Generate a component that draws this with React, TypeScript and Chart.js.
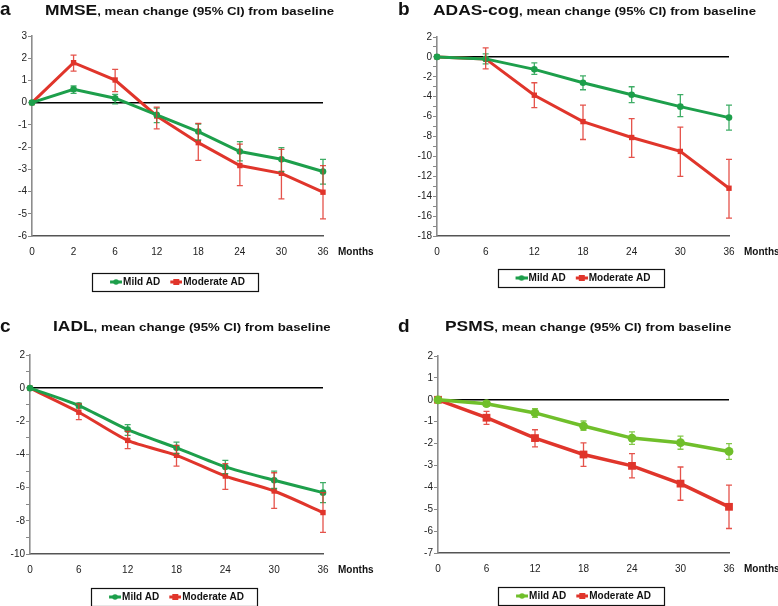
import React, { useEffect, useRef } from 'react';
import { Chart, registerables } from 'chart.js';

Chart.register(...registerables);

const FONT = "'Liberation Sans', Arial, Helvetica, sans-serif";

// ---------- data ----------
const MONTHS_A = ['0', '2', '6', '12', '18', '24', '30', '36'];
const MONTHS = ['0', '6', '12', '18', '24', '30', '36'];

// a: MMSE
const mmseMild = [0, 0.6, 0.2, -0.55, -1.3, -2.2, -2.55, -3.1];
const mmseMildLo = [0, 0.42, -0.05, -0.9, -1.68, -2.62, -3.1, -3.67];
const mmseMildHi = [0, 0.75, 0.37, -0.25, -0.96, -1.75, -2.02, -2.55];
const mmseMod = [0, 1.8, 1.02, -0.6, -1.8, -2.83, -3.18, -4.03];
const mmseModLo = [0, 1.42, 0.5, -1.18, -2.6, -3.73, -4.33, -5.23];
const mmseModHi = [0, 2.14, 1.5, -0.2, -0.93, -1.87, -2.1, -2.83];

// b: ADAS-cog
const adasMild = [0, -0.2, -1.25, -2.6, -3.8, -5.0, -6.1];
const adasMildLo = [0, -0.7, -1.75, -3.3, -4.6, -6.0, -7.35];
const adasMildHi = [0, 0.3, -0.6, -1.9, -3.0, -3.8, -4.85];
const adasMod = [0, -0.2, -3.85, -6.5, -8.1, -9.5, -13.2];
const adasModLo = [0, -1.2, -5.1, -8.3, -10.1, -12.0, -16.2];
const adasModHi = [0, 0.9, -2.6, -4.85, -6.2, -7.05, -10.3];

// c: IADL
const iadlMild = [0, -1.05, -2.5, -3.6, -4.75, -5.55, -6.3];
const iadlMildLo = [0, -1.2, -2.85, -3.95, -5.15, -6.05, -6.9];
const iadlMildHi = [0, -0.9, -2.2, -3.25, -4.35, -5.0, -5.7];
const iadlMod = [0, -1.45, -3.15, -4.05, -5.3, -6.2, -7.5];
const iadlModLo = [0, -1.9, -3.65, -4.7, -6.1, -7.25, -8.7];
const iadlModHi = [0, -0.95, -2.6, -3.45, -4.55, -5.1, -6.3];

// d: PSMS
const psmsMild = [0, -0.18, -0.6, -1.2, -1.75, -1.96, -2.36];
const psmsMildLo = [0, -0.3, -0.8, -1.4, -2.04, -2.26, -2.72];
const psmsMildHi = [0, -0.08, -0.4, -0.97, -1.47, -1.66, -2.0];
const psmsMod = [0, -0.82, -1.75, -2.5, -3.02, -3.83, -4.89];
const psmsModLo = [0, -1.12, -2.15, -3.04, -3.57, -4.59, -5.88];
const psmsModHi = [0, -0.53, -1.37, -1.97, -2.46, -3.07, -3.9];

const SERIES_NAMES = ['Mild AD', 'Moderate AD'];
const TITLE_REST = ', mean change (95% CI) from baseline';
const X_UNIT = 'Months';

const GREEN = '#1d9f4b';
const GREEN_LIGHT = '#70bf2b';
const RED = '#e0352b';

// ---------- plugins ----------
const errorBarPlugin = {
  id: 'errorBars',
  afterDatasetsDraw(chart: any) {
    const { ctx } = chart;
    const xs = chart.scales.x;
    const ys = chart.scales.y;
    chart.data.datasets.forEach((ds: any) => {
      const lo = ds.errLo;
      const hi = ds.errHi;
      if (!lo) return;
      ctx.save();
      ctx.strokeStyle = ds.borderColor;
      ctx.globalAlpha = 0.85;
      ctx.lineWidth = 1.3;
      for (let i = 0; i < lo.length; i++) {
        if (lo[i] === hi[i]) continue;
        const px = xs.getPixelForValue(i);
        const y1 = ys.getPixelForValue(lo[i]);
        const y2 = ys.getPixelForValue(hi[i]);
        ctx.beginPath();
        ctx.moveTo(px, y1);
        ctx.lineTo(px, y2);
        ctx.moveTo(px - 3, y1);
        ctx.lineTo(px + 3, y1);
        ctx.moveTo(px - 3, y2);
        ctx.lineTo(px + 3, y2);
        ctx.stroke();
      }
      ctx.restore();
    });
  },
};

const extrasPlugin = {
  id: 'extras',
  afterDraw(chart: any) {
    const { ctx, chartArea } = chart;
    const xs = chart.scales.x;
    ctx.save();
    ctx.font = `bold 10px ${FONT}`;
    ctx.fillStyle = '#111';
    ctx.textAlign = 'left';
    ctx.textBaseline = 'middle';
    const tickPad = xs.options.ticks.padding;
    ctx.fillText(X_UNIT, chartArea.right + 15, chartArea.bottom + tickPad + 6);
    const lg = chart.legend;
    if (lg && lg.lineWidths) {
      const pad = lg.options.labels.padding;
      const lw = lg.lineWidths[0];
      const cx = (lg.left + pad + lg.right - lw) / 2;
      const rowEnd = cx + lw - pad;
      const cy = lg.top + pad + 5;
      ctx.strokeStyle = '#111';
      ctx.lineWidth = 1.2;
      ctx.strokeRect(Math.round(cx - 18) + 0.5, Math.round(cy - 9) + 0.5, Math.round(rowEnd - cx + 31), 18);
    }
    ctx.restore();
  },
};

function legendSymbol(color: string, square: boolean): HTMLCanvasElement {
  const c = document.createElement('canvas');
  c.width = 16;
  c.height = 10;
  const g = c.getContext('2d')!;
  g.strokeStyle = color;
  g.lineWidth = 3;
  g.beginPath();
  g.moveTo(4, 5);
  g.lineTo(16, 5);
  g.stroke();
  g.fillStyle = color;
  if (square) {
    g.fillRect(7, 2, 6, 6);
  } else {
    g.beginPath();
    g.arc(10, 5, 2.8, 0, Math.PI * 2);
    g.fill();
  }
  return c;
}

type PanelProps = {
  letter: string;
  name: string;
  labels: string[];
  mild: number[];
  mildLo: number[];
  mildHi: number[];
  mod: number[];
  modLo: number[];
  modHi: number[];
  yMin: number;
  yMax: number;
  labelEvery: number;
  green: string;
  tension: number;
  big: boolean;
  left: number;
  top: number;
  width: number;
  height: number;
  chartLeft: number;
  chartRight: number;
  chartTop: number;
  xh: number;
  padBottom: number;
  titleX: number;
  letterX: number;
  titleTop: number;
  letterTop: number;
};

function Panel(p: PanelProps) {
  const ref = useRef<HTMLCanvasElement | null>(null);
  useEffect(() => {
    if (!ref.current) return;
    const YW = 28;
    const chart = new Chart(ref.current, {
      type: 'line',
      data: {
        labels: p.labels,
        datasets: [
          {
            label: SERIES_NAMES[0],
            data: p.mild,
            borderColor: p.green,
            backgroundColor: p.green,
            borderWidth: p.big ? 3.5 : 3,
            pointStyle: 'circle',
            pointRadius: p.big ? 4.4 : 3.3,
            pointBorderWidth: 0,
            tension: p.tension,
            clip: false,
            errLo: p.mildLo,
            errHi: p.mildHi,
          } as any,
          {
            label: SERIES_NAMES[1],
            data: p.mod,
            borderColor: RED,
            backgroundColor: RED,
            borderWidth: p.big ? 3.5 : 3,
            pointStyle: 'rect',
            pointRadius: p.big ? 5.5 : 3.8,
            pointBorderWidth: 0,
            tension: p.tension,
            clip: false,
            errLo: p.modLo,
            errHi: p.modHi,
          } as any,
        ],
      },
      options: {
        animation: false,
        responsive: false,
        devicePixelRatio: 1,
        layout: {
          padding: {
            left: p.chartLeft - YW,
            right: p.width - p.chartRight,
            top: p.chartTop,
            bottom: p.padBottom,
          },
        },
        font: { family: FONT },
        plugins: {
          tooltip: { enabled: false },
          title: { display: false },
          legend: {
            display: true,
            position: 'bottom',
            fullSize: false,
            labels: {
              usePointStyle: true,
              pointStyleWidth: 8,
              padding: 10,
              color: '#111',
              font: { size: 10, weight: 'bold', family: FONT },
              generateLabels: () => [
                {
                  text: SERIES_NAMES[0],
                  pointStyle: legendSymbol(p.green, false),
                  fillStyle: p.green,
                  strokeStyle: p.green,
                  lineWidth: 0,
                  hidden: false,
                  datasetIndex: 0,
                  fontColor: '#111',
                },
                {
                  text: SERIES_NAMES[1],
                  pointStyle: legendSymbol(RED, true),
                  fillStyle: RED,
                  strokeStyle: RED,
                  lineWidth: 0,
                  hidden: false,
                  datasetIndex: 1,
                  fontColor: '#111',
                },
              ],
            },
          },
        },
        scales: {
          x: {
            type: 'category',
            offset: false,
            grid: { display: false, drawTicks: false },
            border: { display: true, color: '#555', width: 1.5 },
            ticks: {
              padding: 10,
              color: '#222',
              font: { size: 10, family: FONT },
              autoSkip: false,
              maxRotation: 0,
            },
            afterFit: (s: any) => {
              s.height = p.xh;
            },
          },
          y: {
            min: p.yMin,
            max: p.yMax,
            grid: {
              drawOnChartArea: true,
              drawTicks: true,
              tickLength: 4,
              tickWidth: 1,
              tickColor: '#888',
              color: (c: any) => (c.tick && c.tick.value === 0 ? '#000' : 'rgba(0,0,0,0)'),
              lineWidth: (c: any) => (c.tick && c.tick.value === 0 ? 1.4 : 1),
            },
            border: { display: true, color: '#8c8c8c', width: 1.6 },
            ticks: {
              stepSize: 1,
              autoSkip: false,
              padding: 1,
              color: '#222',
              font: { size: 10, family: FONT },
              callback: (v: any) => (Number(v) % p.labelEvery !== 0 ? '' : String(v)),
            },
            afterFit: (s: any) => {
              s.width = YW;
            },
          },
        },
      },
      plugins: [errorBarPlugin, extrasPlugin],
    } as any);
    return () => chart.destroy();
  }, []);

  return (
    <>
      <canvas
        ref={ref}
        width={p.width}
        height={p.height}
        style={{ position: 'absolute', left: p.left, top: p.top, width: p.width, height: p.height }}
      />
      <div
        style={{
          position: 'absolute',
          left: p.letterX,
          top: p.letterTop,
          fontFamily: FONT,
          fontWeight: 'bold',
          fontSize: 19,
          lineHeight: '19px',
          color: '#111',
        }}
      >
        {p.letter}
      </div>
      <div
        style={{
          position: 'absolute',
          left: p.titleX,
          top: p.titleTop,
          whiteSpace: 'nowrap',
          fontFamily: FONT,
          fontWeight: 'bold',
          fontSize: 14.5,
          lineHeight: '14.5px',
          color: '#111',
          transform: 'scaleX(1.2)',
          transformOrigin: 'left top',
        }}
      >
        {p.name}
        <span style={{ fontSize: 11 }}>{TITLE_REST}</span>
      </div>
    </>
  );
}

export default function App() {
  return (
    <div
      style={{
        position: 'fixed',
        left: 0,
        top: 0,
        width: 778,
        height: 606,
        overflow: 'hidden',
        background: '#fff',
      }}
    >
      <Panel
        letter="a"
        name="MMSE"
        labels={MONTHS_A}
        mild={mmseMild}
        mildLo={mmseMildLo}
        mildHi={mmseMildHi}
        mod={mmseMod}
        modLo={mmseModLo}
        modHi={mmseModHi}
        yMin={-6}
        yMax={3}
        labelEvery={1}
        green={GREEN}
        tension={0}
        big={false}
        left={0}
        top={0}
        width={389}
        height={300}
        chartLeft={32}
        chartRight={323}
        chartTop={36}
        xh={31}
        padBottom={3}
        titleX={45}
        letterX={0}
        titleTop={2.7}
        letterTop={-1}
      />
      <Panel
        letter="b"
        name="ADAS-cog"
        labels={MONTHS}
        mild={adasMild}
        mildLo={adasMildLo}
        mildHi={adasMildHi}
        mod={adasMod}
        modLo={adasModLo}
        modHi={adasModHi}
        yMin={-18}
        yMax={2}
        labelEvery={2}
        green={GREEN}
        tension={0}
        big={false}
        left={390}
        top={0}
        width={388}
        height={300}
        chartLeft={47}
        chartRight={339}
        chartTop={37}
        xh={27}
        padBottom={7}
        titleX={433}
        letterX={398}
        titleTop={2.7}
        letterTop={-1}
      />
      <Panel
        letter="c"
        name="IADL"
        labels={MONTHS}
        mild={iadlMild}
        mildLo={iadlMildLo}
        mildHi={iadlMildHi}
        mod={iadlMod}
        modLo={iadlModLo}
        modHi={iadlModHi}
        yMin={-10}
        yMax={2}
        labelEvery={2}
        green={GREEN}
        tension={0.25}
        big={false}
        left={0}
        top={300}
        width={389}
        height={320}
        chartLeft={30}
        chartRight={323}
        chartTop={55}
        xh={28}
        padBottom={8}
        titleX={53}
        letterX={0}
        titleTop={319.4}
        letterTop={315.6}
      />
      <Panel
        letter="d"
        name="PSMS"
        labels={MONTHS}
        mild={psmsMild}
        mildLo={psmsMildLo}
        mildHi={psmsMildHi}
        mod={psmsMod}
        modLo={psmsModLo}
        modHi={psmsModHi}
        yMin={-7}
        yMax={2}
        labelEvery={1}
        green={GREEN_LIGHT}
        tension={0}
        big={true}
        left={390}
        top={300}
        width={388}
        height={320}
        chartLeft={48}
        chartRight={339}
        chartTop={56}
        xh={28}
        padBottom={9}
        titleX={445}
        letterX={398}
        titleTop={319.4}
        letterTop={315.6}
      />
    </div>
  );
}
